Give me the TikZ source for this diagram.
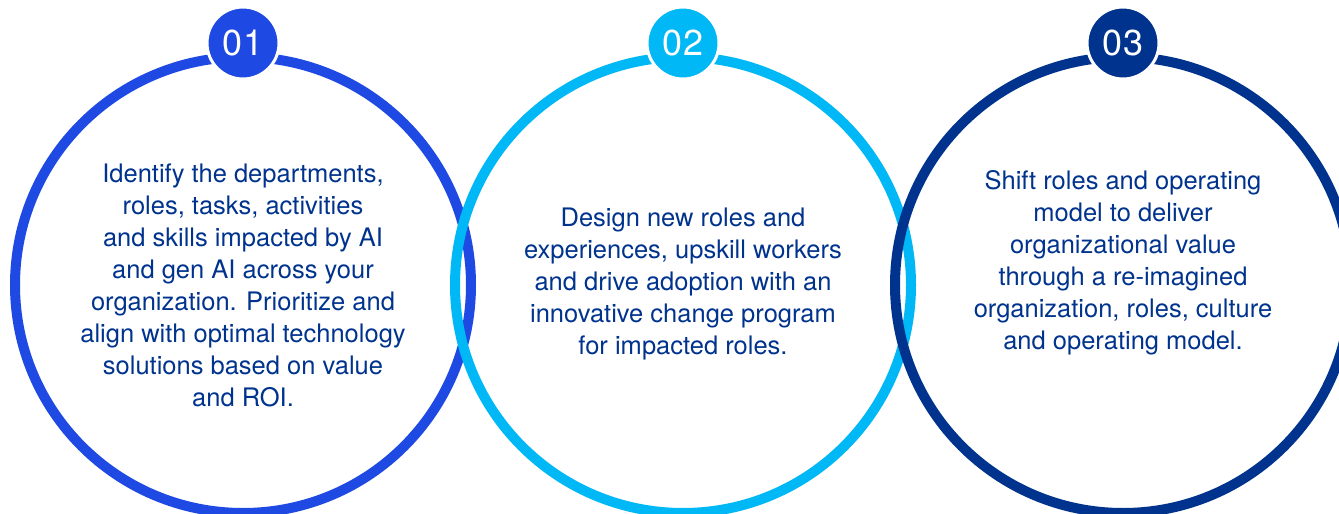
\documentclass[tikz,border=0pt]{standalone}
\usepackage{fontspec}
\setmainfont{TeX Gyre Heros}
\usetikzlibrary{positioning}
\definecolor{cobalt}{HTML}{1E49E2}
\definecolor{pacific}{HTML}{00B8F5}
\definecolor{kpmgblue}{HTML}{00338D}
\tikzstyle{ring}=[circle, draw, line width=10pt, minimum size=456pt, inner sep=0pt]
\tikzstyle{badge}=[circle, draw=white, line width=3pt, minimum size=72pt, inner sep=0pt, text=white, font=\fontsize{36}{36}\selectfont]
\tikzstyle{blurb}=[align=center, text=kpmgblue, font=\fontsize{25.5}{32}\selectfont]

\begin{document}
\begin{tikzpicture}[x=1pt, y=-1pt]
    \fill[white] (0,0) rectangle (1339,514);
    \clip (0,0) rectangle (1339,514);
% Rings
    \node[ring, cobalt] (c1) at (243,285) {};
    \node[ring, pacific] (c2) at (683,285) {};
    \node[ring, kpmgblue] (c3) at (1123,285) {};
% Badges
    \node[badge, fill=cobalt] (b1) at (243,43) {01};
    \node[badge, fill=pacific] (b2) at (683,43) {02};
    \node[badge, fill=kpmgblue] (b3) at (1123,43) {03};
% Texts
    \node[blurb] (t1) at (243,285) {Identify the departments,\\roles, tasks, activities\\and skills impacted by AI\\and gen AI across your\\organization. Prioritize and\\align with optimal technology\\solutions based on value\\and ROI.};
    \node[blurb] (t2) at (683,284) {Design new roles and\\experiences, upskill workers\\and drive adoption with an\\innovative change program\\for impacted roles.};
    \node[blurb] (t3) at (1123,263) {Shift roles and operating\\model to deliver\\organizational value\\through a re-imagined\\organization, roles, culture\\and operating model.};
\end{tikzpicture}
\end{document}
